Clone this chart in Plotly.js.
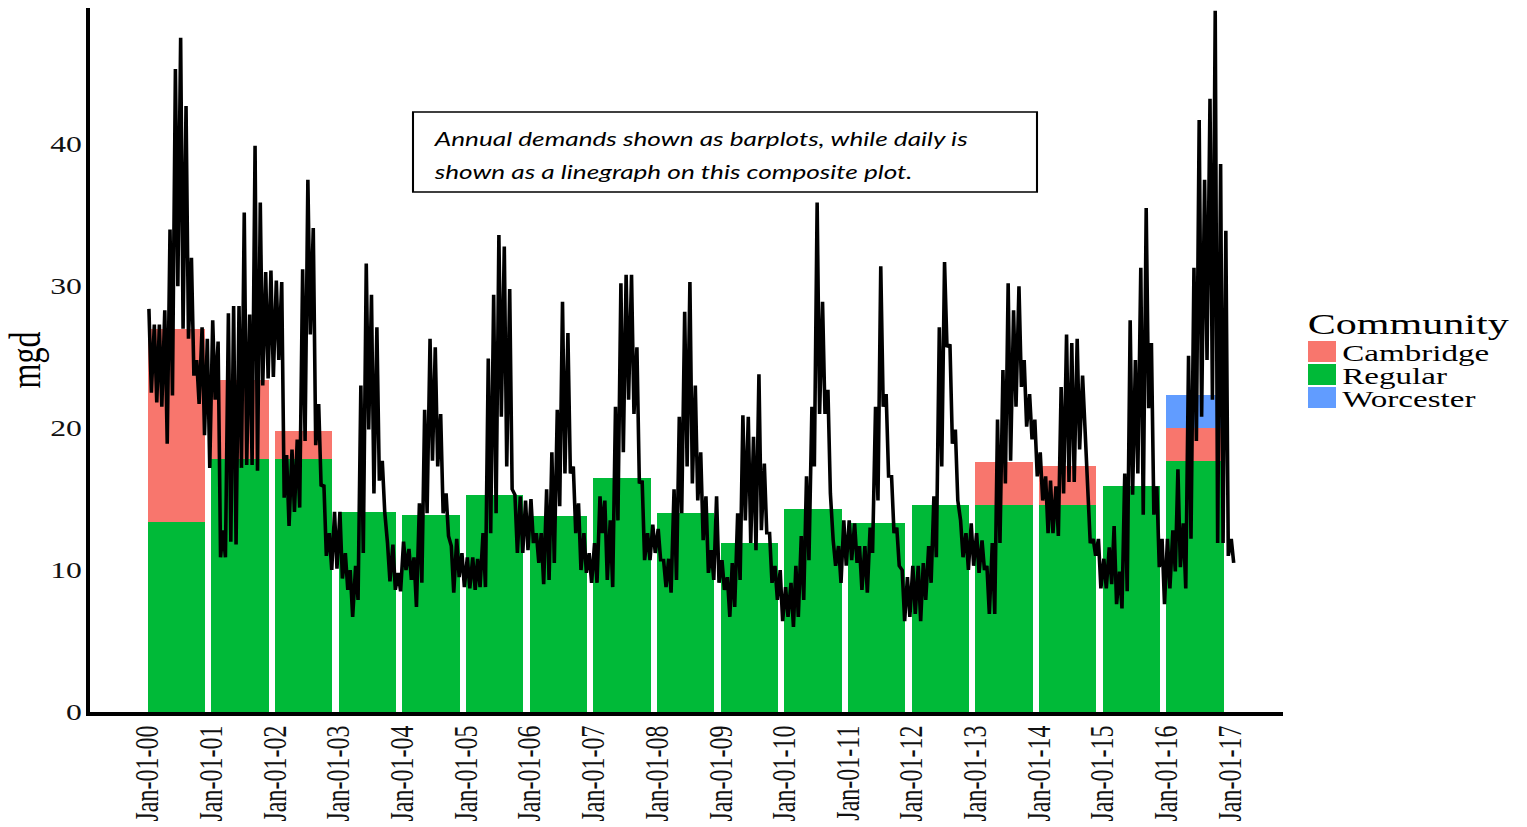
<!DOCTYPE html>
<html>
<head>
<meta charset="utf-8">
<script src="https://cdn.plot.ly/plotly-3.0.1.min.js"></script>
<style>
html,body{margin:0;padding:0;background:#fff;overflow:hidden;}
#wrap{width:1527px;height:827px;overflow:hidden;position:relative;}
#plot{width:1107px;height:827px;transform:scaleX(1.3794);transform-origin:0 0;}
</style>
</head>
<body>
<div id="wrap"><div id="plot"></div></div>
<script>
// ---- data ----
const years = [2000,2001,2002,2003,2004,2005,2006,2007,2008,2009,2010,2011,2012,2013,2014,2015,2016];
const communities = ['Cambridge','Regular','Worcester'];
const communityColors = ['#F8766D','#00BA38','#619CFF'];
const regular   = [13.4,17.8,17.8,14.1,13.9,15.3,13.8,16.5,14.0,11.9,14.3,13.3,14.6,14.6,14.6,15.9,17.7];
const cambridge = [13.6,5.6,2.0,0,0,0,0,0,0,0,0,0,0,3.0,2.7,0,2.3];
const worcester = [0,0,0,0,0,0,0,0,0,0,0,0,0,0,0,0,2.3];

// daily demand, read as monthly upper / lower envelope (Jan 2000 .. Jan 2017)
const dailyHigh = [
 28.4,27.3,27.3,28.3,34.0,45.3,47.5,42.7,32.0,24.8,27.1,26.3,
 27.6,26.1,12.8,28.1,28.6,28.6,35.2,28.0,39.9,35.9,31.0,31.1,
 30.4,30.3,18.1,18.5,19.2,31.2,37.5,34.1,21.7,16.0,12.6,14.1,
 14.1,11.2,10.0,10.3,23.0,31.6,29.4,27.1,17.7,11.9,11.8,9.8,
 12.0,11.5,10.9,14.7,21.3,26.3,25.7,21.0,15.4,11.7,12.2,11.2,
 10.9,10.9,10.8,12.6,24.9,29.4,33.6,32.8,29.8,15.3,15.2,14.9,
 15.0,12.6,12.6,15.7,18.3,21.3,28.9,26.7,17.3,14.7,12.6,11.2,
 11.9,15.2,14.9,13.5,21.5,30.2,30.8,30.8,25.7,16.3,12.6,13.2,
 12.9,10.7,10.8,15.7,20.8,28.2,30.3,23.0,18.3,15.2,11.4,15.2,
 10.7,9.5,10.5,14.0,20.9,20.8,19.4,23.8,17.5,12.6,10.3,10.0,
 8.8,9.1,10.3,12.4,16.6,21.5,35.9,28.9,22.7,12.1,11.7,13.5,
 13.5,13.3,11.7,11.7,13.0,21.5,31.4,22.4,16.6,13.0,10.0,9.5,
 10.3,10.3,10.5,11.7,15.2,27.1,31.7,25.9,19.9,13.5,12.6,13.3,
 12.6,12.1,10.3,11.9,20.6,24.1,30.2,28.3,30.0,24.8,22.4,20.6,
 18.3,16.6,16.3,15.9,22.9,26.6,26.0,26.3,23.7,14.5,12.2,12.2,
 10.8,11.6,13.1,9.9,16.8,27.6,24.8,31.3,35.5,26.0,15.9,12.2,
 12.2,12.8,17.1,13.3,25.1,31.3,41.7,37.5,43.2,49.4,38.6,33.9,
 12.2
];
const dailyLow = [
 22.5,21.8,21.5,18.9,22.3,30.0,27.0,26.3,23.7,21.7,19.5,17.2,
 22.0,10.9,10.9,12.0,11.8,17.2,17.4,17.4,17.0,23.0,23.5,23.6,
 24.8,15.1,13.1,14.1,14.4,19.1,26.6,18.8,15.9,11.0,10.0,10.1,
 9.4,8.6,6.7,7.9,11.2,19.9,15.4,16.3,14.1,9.2,8.6,8.5,
 10.0,9.3,7.4,9.1,14.0,17.7,17.3,14.0,12.4,8.4,9.5,8.8,
 8.7,8.6,8.8,8.8,12.6,14.0,20.8,17.3,15.7,11.2,11.2,11.4,
 11.9,10.5,9.0,9.3,10.5,14.5,16.8,16.8,12.6,10.0,9.8,9.1,
 9.1,12.6,9.3,8.8,13.5,18.3,22.0,21.0,16.1,10.7,10.7,11.2,
 10.7,8.8,8.4,9.3,14.0,17.3,16.1,14.9,12.1,9.8,9.3,9.1,
 8.6,6.7,7.4,9.3,13.5,11.9,11.4,12.8,12.6,9.1,7.9,6.4,
 6.7,6.0,6.7,7.9,10.7,17.3,21.0,21.0,15.4,10.3,9.1,10.3,
 10.7,10.5,8.6,8.4,11.2,14.9,21.5,16.6,12.6,10.3,6.4,6.7,
 6.9,6.4,7.9,9.1,10.9,17.3,25.7,18.9,14.9,10.9,10.0,10.3,
 9.8,10.0,6.9,6.9,11.9,16.1,17.7,21.5,22.9,20.1,19.2,16.6,
 14.9,12.6,12.6,12.4,15.4,16.2,16.2,18.5,19.7,11.9,11.0,8.7,
 8.7,9.0,7.6,7.3,8.5,15.3,16.8,13.9,21.4,13.9,10.2,7.6,
 8.7,9.9,10.2,8.7,12.2,19.1,20.8,24.8,22.0,11.9,11.9,11.0,
 10.5
];
const tickLabels = ['Jan-01-00','Jan-01-01','Jan-01-02','Jan-01-03','Jan-01-04','Jan-01-05','Jan-01-06','Jan-01-07','Jan-01-08','Jan-01-09','Jan-01-10','Jan-01-11','Jan-01-12','Jan-01-13','Jan-01-14','Jan-01-15','Jan-01-16','Jan-01-17'];
const noteLines = ['Annual demands shown as barplots, while daily is','shown as a linegraph on this composite plot.'];

// ---- build ----
const S = 1527/1107;
const ML = 65, MR = 177, MT = 8, MB = 115, W = 1107, H = 827;
const PW = W - ML - MR, PH = H - MT - MB;
const pxX = v => (v / S - ML) / PW;
const pxY = v => (H - MB - v) / PH;
const pad = n => (n < 10 ? '0' : '') + n;

const yearStarts = years.map(y => y + '-01-01');
const tickVals = tickLabels.map((t, i) => (2000 + i) + '-01-01');
const lineX = [], lineY = [];
dailyHigh.forEach((h, k) => {
  const yr = 2000 + Math.floor(k / 12), mo = pad(k % 12 + 1);
  lineX.push(yr + '-' + mo + '-08'); lineY.push(h);
  lineX.push(yr + '-' + mo + '-22'); lineY.push(dailyLow[k]);
});
const YEAR_MS = 365.25 * 864e5;
const barBase = {type:'bar', x: yearStarts, offset: 0, width: 0.9 * YEAR_MS, showlegend:false, hoverinfo:'skip'};
const traces = [
  Object.assign({}, barBase, {name: communities[1], y: regular,   marker:{color: communityColors[1], line:{width:0}}}),
  Object.assign({}, barBase, {name: communities[0], y: cambridge, marker:{color: communityColors[0], line:{width:0}}}),
  Object.assign({}, barBase, {name: communities[2], y: worcester, marker:{color: communityColors[2], line:{width:0}}}),
  {type:'scatter', mode:'lines', x: lineX, y: lineY, line:{color:'#000', width:2.6, shape:'linear'}, showlegend:false, hoverinfo:'skip'}
];

const serif = 'Liberation Serif, Times New Roman, serif';
const noteFont = {family:'Lato, sans-serif', size:19, style:'italic', color:'#000'};
const shapes = [
  {type:'rect', xref:'paper', yref:'paper', x0: pxX(413), x1: pxX(1037), y0: pxY(192), y1: pxY(112), line:{color:'#000', width:1.5}, fillcolor:'rgba(0,0,0,0)'}
];
const annotations = [
  {xref:'paper', yref:'paper', x: pxX(430), y: pxY(139), xanchor:'left', yanchor:'middle', showarrow:false, text: noteLines[0], font: noteFont},
  {xref:'paper', yref:'paper', x: pxX(430), y: pxY(171), xanchor:'left', yanchor:'middle', showarrow:false, text: noteLines[1], font: noteFont},
  {xref:'paper', yref:'paper', x: pxX(1305), y: pxY(324), xanchor:'left', yanchor:'middle', showarrow:false, text:'Community', font:{family: serif, size:30.5, color:'#000'}}
];
const swTop = [341, 364, 387];
communities.forEach((c, i) => {
  shapes.push({type:'rect', xref:'paper', yref:'paper', x0: pxX(1308), x1: pxX(1336), y0: pxY(swTop[i] + 21), y1: pxY(swTop[i]), line:{width:0}, fillcolor: communityColors[i]});
  annotations.push({xref:'paper', yref:'paper', x: pxX(1340), y: pxY(swTop[i] + 12), xanchor:'left', yanchor:'middle', showarrow:false, text: c, font:{family: serif, size:24, color:'#000'}});
});

const layout = {
  width: W, height: H,
  margin: {l: ML, r: MR, t: MT, b: MB, pad: 0},
  paper_bgcolor:'#fff', plot_bgcolor:'#fff',
  barmode:'stack', showlegend:false,
  xaxis: {type:'date', range:['1999-02-02','2017-10-31'], tickmode:'array', tickvals: tickVals, ticktext: tickLabels,
          tickangle:-90, ticks:'', showgrid:false, zeroline:false, showline:true, linecolor:'#000', linewidth:4,
          tickfont:{family: serif, size:24, color:'#111'}, ticklabelstandoff: 0},
  yaxis: {range:[0, 49.6], tickvals:[0,10,20,30,40], ticks:'', showgrid:false, zeroline:false, showline:true, linecolor:'#000', linewidth:3,
          tickfont:{family: serif, size:23, color:'#111'}, ticklabelstandoff: -2,
          title:{text:'mgd', font:{family: serif, size:32, color:'#000'}, standoff: 4}},
  shapes: shapes, annotations: annotations
};
Plotly.newPlot('plot', traces, layout, {staticPlot:true, displayModeBar:false});
</script>
</body>
</html>
